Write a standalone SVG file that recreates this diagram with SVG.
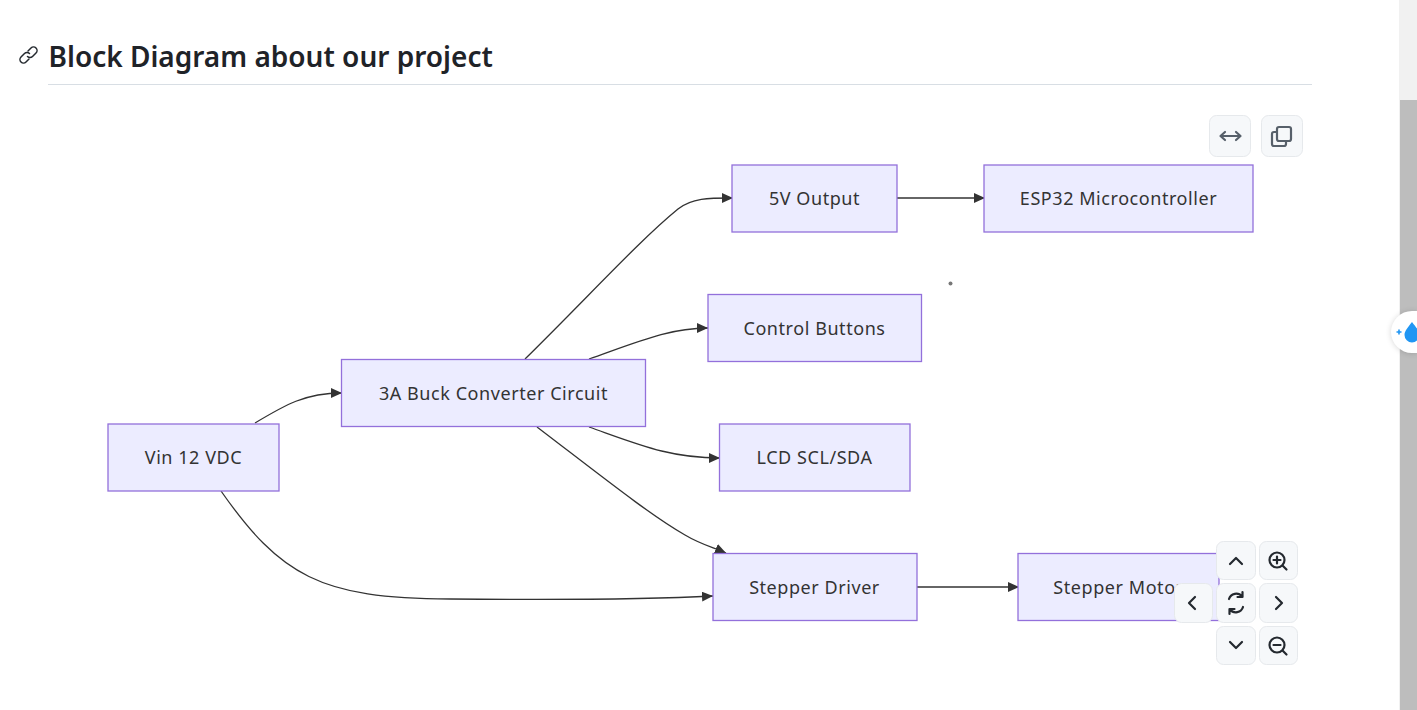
<svg xmlns="http://www.w3.org/2000/svg" width="1417" height="710" viewBox="0 0 1417 710">
<style>
text{font-family:"Noto Sans","Open Sans","Liberation Sans",sans-serif}
.n rect{fill:#ececff;stroke:#9370db;stroke-width:1.3}
.n text{font-size:18px;letter-spacing:.56px;fill:#333;text-anchor:middle}
.e{fill:none;stroke:#333;stroke-width:1.3}
.b rect{fill:#f6f8fa;stroke:#e6e9ec;stroke-width:1}
.b path,.b circle{fill:none;stroke:#24292f;stroke-width:2.200;stroke-linecap:round;stroke-linejoin:round}
.b .g{stroke:#57606a}
</style>
<defs>
<marker id="a" markerUnits="userSpaceOnUse" markerWidth="12" markerHeight="12" refX="11" refY="5" orient="auto"><path d="M0 0L11 5L0 10z" fill="#333"/></marker>
<filter id="s" x="-50%" y="-50%" width="200%" height="200%"><feGaussianBlur stdDeviation="3"/></filter>
</defs>
<rect width="1417" height="710" fill="#fff"/>
<g id="heading">
<text x="48.500" y="67" font-size="28" font-weight="600" fill="#1f2328">Block Diagram about our project</text>
<path d="M48 84.500H1312" stroke="#d8dee4" stroke-width="1"/>
<g fill="none" stroke="#24292f" stroke-width="1.500" stroke-linecap="round">
<path d="M28 51l3-3a3.500 3.500 0 0 1 5 5l-3.500 3.500a3.500 3.500 0 0 1-5 0"/>
<path d="M29 59l-3 3a3.500 3.500 0 0 1-5-5l3.500-3.500a3.500 3.500 0 0 1 5 0"/>
</g>
</g>
<g id="connectors">
<path class="e" marker-end="url(#a)" d="M255 423C285 405 305 393 342 393"/>
<path class="e" marker-end="url(#a)" d="M221 491C280 575 320 599 450 599C560 600 640 600 713 596"/>
<path class="e" marker-end="url(#a)" d="M525 359C590 295 640 240 678 209C692 198 708 198 733 198"/>
<path class="e" marker-end="url(#a)" d="M589 359C640 341 670 328 708 328"/>
<path class="e" marker-end="url(#a)" d="M589 427C640 445 670 458 720 458"/>
<path class="e" marker-end="url(#a)" d="M537 427C600 475 650 515 685 535C700 544 712 547 726 553"/>
<path class="e" marker-end="url(#a)" d="M897 198H985"/>
<path class="e" marker-end="url(#a)" d="M917 587H1019"/>
</g>
<g id="vin" class="n"><rect x="108" y="424" width="171" height="67"/><text x="193.500" y="464">Vin 12 VDC</text></g>
<g id="buck" class="n"><rect x="341.500" y="359.500" width="304" height="67"/><text x="493.500" y="400">3A Buck Converter Circuit</text></g>
<g id="out5v" class="n"><rect x="732" y="165" width="165" height="67"/><text x="814.500" y="205">5V Output</text></g>
<g id="esp32" class="n"><rect x="984" y="165" width="269" height="67"/><text x="1118.500" y="205">ESP32 Microcontroller</text></g>
<g id="buttons" class="n"><rect x="708" y="294.500" width="213.500" height="67"/><text x="814.500" y="335">Control Buttons</text></g>
<g id="lcd" class="n"><rect x="719.500" y="424" width="190.500" height="67"/><text x="814.500" y="464">LCD SCL/SDA</text></g>
<g id="driver" class="n"><rect x="713" y="553.500" width="204" height="67"/><text x="814.500" y="594">Stepper Driver</text></g>
<g id="motor" class="n"><rect x="1018" y="553.500" width="201" height="67"/><text x="1118.500" y="594">Stepper Motor</text></g>
<circle id="speck" cx="950.500" cy="283.500" r="2" fill="#777"/>
<g id="controls" class="b">
<g><rect x="1209.500" y="115.500" width="41" height="41" rx="7"/><path class="g" d="M1221 136H1240M1225 132l-4.500 4 4.500 4M1236 132l4.500 4-4.500 4"/></g>
<g><rect x="1261.500" y="115.500" width="41" height="41" rx="7"/><path class="g" d="M1277 132h-3a2 2 0 0 0-2 2v10a2 2 0 0 0 2 2h10a2 2 0 0 0 2-2v-3M1279 127h10a2 2 0 0 1 2 2v10a2 2 0 0 1-2 2h-10a2 2 0 0 1-2-2v-10a2 2 0 0 1 2-2z"/></g>
<g><rect x="1216.500" y="541.500" width="39" height="38" rx="7"/><path d="M1230 564l6-6 6 6"/></g>
<g><rect x="1259.500" y="541.500" width="38" height="38" rx="7"/><circle cx="1277" cy="560" r="7.500"/><path d="M1277 556.500v7M1273.500 560h7M1283 566l3.500 3.500"/></g>
<g><rect x="1174.500" y="583.500" width="38" height="39" rx="7"/><path d="M1195 597l-6 6 6 6"/></g>
<g><rect x="1216.500" y="583.500" width="39" height="39" rx="7"/><path d="M1229 599a7.500 7.500 0 0 1 13-2.500M1243 607a7.500 7.500 0 0 1-13 2.500M1242.500 592v5h-5M1229.500 614v-5h5"/></g>
<g><rect x="1259.500" y="583.500" width="38" height="39" rx="7"/><path d="M1276 597l6 6-6 6"/></g>
<g><rect x="1216.500" y="626.500" width="39" height="38" rx="7"/><path d="M1230 642l6 6 6-6"/></g>
<g><rect x="1259.500" y="626.500" width="38" height="38" rx="7"/><circle cx="1277" cy="645" r="7.500"/><path d="M1273.500 645h7M1283 651l3.500 3.500"/></g>
</g>
<g id="scrollbar">
<rect x="1399" y="0" width="18" height="710" fill="#f1f1f1"/>
<rect x="1400" y="100" width="17" height="610" fill="#bdbdbd"/>
</g>
<g id="badge">
<path d="M1417 312H1412a20.500 20.500 0 0 0 0 41H1417z" fill="#000" opacity=".18" filter="url(#s)"/>
<path d="M1417 311H1412a21 21 0 0 0 0 42H1417z" fill="#fff"/>
<path d="M1412 322c-4.500 6-7.500 9-7.500 13a7.500 7.500 0 0 0 15 0c0-4-3-7-7.500-13z" fill="#2196f3"/>
<path d="M1396.500 332h5M1399 329.500v5" stroke="#2196f3" stroke-width="1.600"/>
</g>
</svg>
